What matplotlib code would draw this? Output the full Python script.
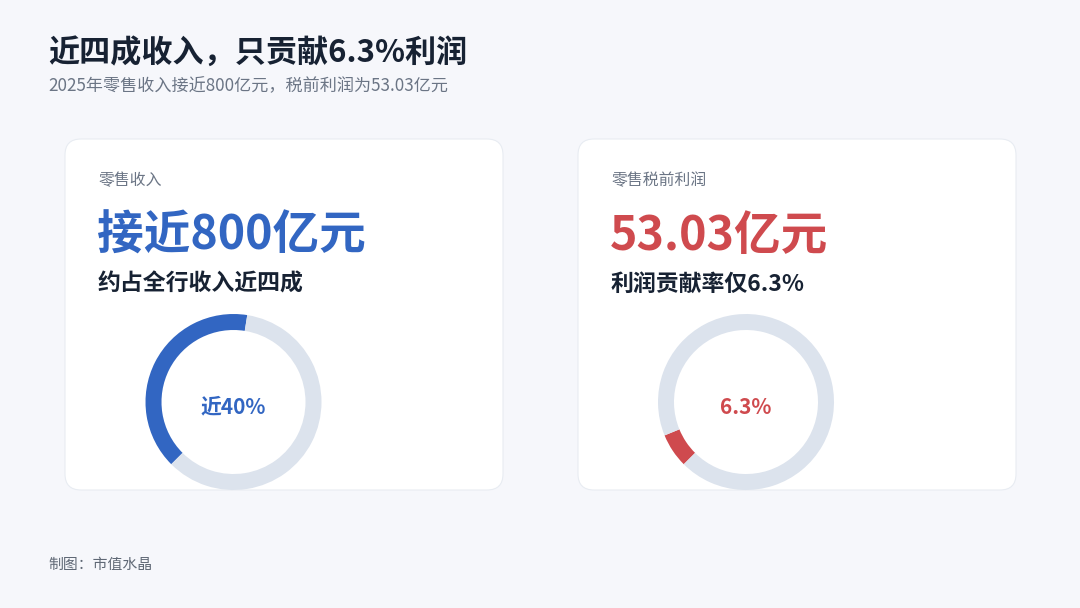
import matplotlib.pyplot as plt
from matplotlib.patches import FancyBboxPatch

plt.rcParams['font.family'] = ['Noto Sans CJK SC', 'DejaVu Sans']

title = "近四成收入，只贡献6.3%利润"
subtitle = "2025年零售收入接近800亿元，税前利润为53.03亿元"
source = "制图：市值水晶"

labels = ["零售收入", "零售税前利润"]
headline = ["接近800亿元", "53.03亿元"]
notes = ["约占全行收入近四成", "利润贡献率仅6.3%"]
share = [40, 6.3]
center_text = ["近40%", "6.3%"]
colors = ["#3266C2", "#CF4A4E"]

W, H = 1080, 608
fig = plt.figure(figsize=(W / 100, H / 100), dpi=100)
fig.patch.set_facecolor("#F6F7FB")

bg = fig.add_axes([0, 0, 1, 1])
bg.set_xlim(0, W)
bg.set_ylim(H, 0)
bg.axis("off")

bg.text(48, 53, title, fontsize=22.4, fontweight="bold", color="#172233", va="center")
bg.text(48, 86, subtitle, fontsize=12.3, color="#6B7585", va="center")
bg.text(48, 565, source, fontsize=10.7, color="#5F6875", va="center")

card_x = [65, 578]
card_w, card_top, card_h = 438, 139, 351
ring_cx = [233.5, 746]
ring_cy = 402
ring_r = 88

for i in range(2):
    x0 = card_x[i]
    card = FancyBboxPatch((x0, card_top), card_w, card_h,
                          boxstyle="round,pad=0,rounding_size=16",
                          facecolor="white", edgecolor="#E8ECF2", linewidth=0.8)
    bg.add_patch(card)
    tx = x0 + 33
    bg.text(tx, 181, labels[i], fontsize=11.4, color="#6B7585", va="center")
    bg.text(tx - 1, 236, headline[i], fontsize=33.6, fontweight="bold", color=colors[i], va="center")
    bg.text(tx, 284, notes[i], fontsize=16.5, fontweight="bold", color="#172233", va="center")

    # donut
    left = (ring_cx[i] - ring_r) / W
    bottom = 1 - (ring_cy + ring_r) / H
    ax = fig.add_axes([left, bottom, 2 * ring_r / W, 2 * ring_r / H])
    ax.pie([share[i], 100 - share[i]], colors=[colors[i], "#DCE3ED"],
           startangle=225, counterclock=False, radius=1,
           wedgeprops=dict(width=16 / ring_r, linewidth=0))
    ax.set_xlim(-1, 1)
    ax.set_ylim(-1, 1)
    ax.set_aspect("equal")
    ax.axis("off")
    bg.text(ring_cx[i], ring_cy + 5, center_text[i], fontsize=15, fontweight="bold",
            color=colors[i], ha="center", va="center")

fig.savefig("out.png", dpi=100, facecolor=fig.get_facecolor())
